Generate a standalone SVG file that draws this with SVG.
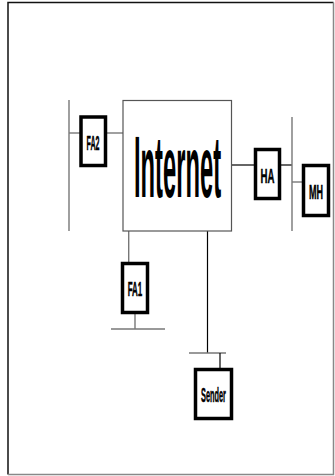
<svg xmlns="http://www.w3.org/2000/svg" width="335" height="476" viewBox="0 0 335 476">
  <style>
    .frame-dark { stroke: #111; stroke-width: 1.5; fill: none; }
    .frame-light { stroke: #888; stroke-width: 1.5; fill: none; }
    .cloud { fill: #fff; stroke: #555; stroke-width: 1.2; }
    .node { fill: #fff; stroke: #000; stroke-width: 3.5; }
    .wire { stroke: #000; stroke-width: 1.2; fill: none; }
    .wire-g { stroke: #777; stroke-width: 1.4; fill: none; }
    .lbl { font-family: "Liberation Sans", Arial, sans-serif; font-weight: bold; font-size: 21px; fill: #000; stroke: #000; stroke-width: 0.5; text-anchor: middle; }
    .big { font-family: "Liberation Sans", Arial, sans-serif; font-weight: bold; font-size: 88px; fill: #000; text-anchor: middle; }
  </style>

  <!-- page frame -->
  <path class="frame-dark" d="M8,474.5 V2.5 H333.5"/>
  <path class="frame-light" d="M333.5,2.5 V474.5 H8"/>

  <!-- connectors and network segments -->
  <g id="connectors">
    <line class="wire-g" x1="69" y1="100" x2="69" y2="231"/>
    <line class="wire-g" x1="69" y1="133" x2="80" y2="133"/>
    <line class="wire-g" x1="106" y1="133" x2="123" y2="133"/>
    <line class="wire" x1="232" y1="165" x2="255" y2="165"/>
    <line class="wire" x1="280" y1="165" x2="292" y2="165"/>
    <line class="wire-g" x1="292" y1="117" x2="292" y2="231"/>
    <line class="wire-g" x1="292" y1="182" x2="303" y2="182"/>
    <line class="wire-g" x1="128.7" y1="231" x2="128.7" y2="263"/>
    <line class="wire-g" x1="135" y1="313" x2="135" y2="329"/>
    <line class="wire-g" x1="111" y1="329" x2="165" y2="329"/>
    <line class="wire" x1="207.5" y1="231" x2="207.5" y2="353"/>
    <line class="wire-g" x1="189" y1="353" x2="226" y2="353"/>
    <line class="wire" x1="220" y1="353" x2="220" y2="369"/>
  </g>

  <!-- labels are narrowed with a horizontal scale -->
  <g id="internet">
    <rect class="cloud" x="123" y="100.5" width="108.5" height="130.5"/>
    <text class="big" transform="translate(177.5,197) scale(0.27,1)">Internet</text>
  </g>

  <g id="fa2">
    <rect class="node" x="81" y="117" width="24.5" height="48.5"/>
    <text class="lbl" transform="translate(93,149.5) scale(0.34,1)">FA2</text>
  </g>

  <g id="ha">
    <rect class="node" x="255.5" y="149.5" width="24" height="49"/>
    <text class="lbl" transform="translate(267.5,182.5) scale(0.46,1)">HA</text>
  </g>

  <g id="mh">
    <rect class="node" x="303.5" y="165.5" width="25" height="50"/>
    <text class="lbl" transform="translate(316,199) scale(0.43,1)">MH</text>
  </g>

  <g id="fa1">
    <rect class="node" x="122.5" y="263.5" width="25" height="49"/>
    <text class="lbl" transform="translate(135,295.5) scale(0.38,1)">FA1</text>
  </g>

  <g id="sender">
    <rect class="node" x="195.5" y="369.5" width="36" height="49"/>
    <text class="lbl" transform="translate(213.5,401.5) scale(0.35,1)">Sender</text>
  </g>
</svg>
